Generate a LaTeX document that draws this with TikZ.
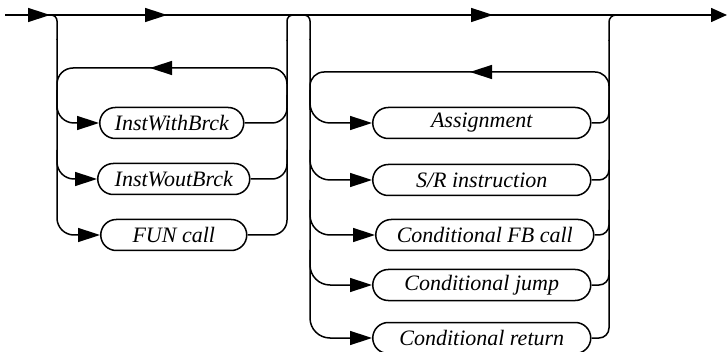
\documentclass[tikz,border=0pt]{standalone}
\usepackage{fontspec}
\setmainfont{Liberation Serif}
\usetikzlibrary{arrows.meta}
\tikzset{
  rail/.style={line width=1.5pt, line join=round},
  tipr/.style={-{Triangle[length=22pt,width=14pt]}},
  tips/.style={-{Triangle[length=16pt,width=14pt]}},
  itembox/.style={draw, line width=1.5pt, rounded corners=15.5pt, minimum height=31pt,
    inner sep=0pt, anchor=west, font=\fontsize{22}{26}\selectfont\itshape},
}
\begin{document}
\begin{tikzpicture}[x=1pt,y=-1pt]
\useasboundingbox (0,0) rectangle (727,352);
% named coordinates
\coordinate (start) at (5,15);
\coordinate (finish) at (727,15);
\coordinate (a1b) at (28,15);   \coordinate (a1t) at (50,15);
\coordinate (a2b) at (145,15);  \coordinate (a2t) at (167,15);
\coordinate (a3b) at (470,15);  \coordinate (a3t) at (493,15);
\coordinate (a4b) at (711,15);
\coordinate (l1b) at (170,68);  \coordinate (l1t) at (150,68);
\coordinate (l2b) at (490,72);  \coordinate (l2t) at (470,72);

% boxes, block 1
\node[itembox, minimum width=144pt] (b1) at (99,123) {InstWithBrck};
\node[itembox, minimum width=152pt] (b2) at (97,179) {InstWoutBrck};
\node[itembox, minimum width=146pt] (b3) at (100,235) {FUN call};
% boxes, block 2
\node[itembox, minimum width=218pt] (c1) at (372,123) {Assignment};
\node[itembox, minimum width=218pt] (c2) at (372,180) {S/R instruction};
\node[itembox, minimum width=218pt] (c3) at (375,235) {Conditional FB call};
\node[itembox, minimum width=218pt] (c4) at (372,285) {Conditional jump};
\node[itembox, minimum width=218pt] (c5) at (372,338) {Conditional return};

% main line
\draw[rail] (start) -- (a4b);
\draw[rail,tipr] (a1b) -- (a1t);
\draw[rail,tipr] (a2b) -- (a2t);
\draw[rail,tipr] (a3b) -- (a3t);
\draw[rail,tips] (a4b) -- (finish);

% block 1 left rail
\draw[rail, rounded corners=6pt] (40,15) -| (57,40);
\draw[rail, rounded corners=17pt, tipr] (57,39) |- (b3.west);
\draw[rail, rounded corners=17pt, tipr] (57,90) |- (b1.west);
\draw[rail, rounded corners=17pt, tipr] (57,150) |- (b2.west);
% block 1 right rail
\draw[rail, rounded corners=15pt] (b1.east) -| (287,95);
\draw[rail, rounded corners=15pt] (b2.east) -| (287,150);
\draw[rail, rounded corners=15pt] (b3.east) -| (287,40);
\draw[rail, rounded corners=6pt] (287,41) |- (300,15);
% block 1 loop
\draw[rail, rounded corners=16pt] (287,112) -- (287,68) -- (57,68) -- (57,110);
\draw[rail,tipr] (l1b) -- (l1t);

% block 2 left rail
\draw[rail, rounded corners=6pt] (295,15) -| (310,40);
\draw[rail, rounded corners=20pt, tipr] (310,39) |- (c5.west);
\draw[rail, rounded corners=20pt, tipr] (310,90) |- (c1.west);
\draw[rail, rounded corners=20pt, tipr] (310,150) |- (c2.west);
\draw[rail, rounded corners=20pt, tipr] (310,200) |- (c3.west);
\draw[rail, rounded corners=20pt, tipr] (310,250) |- (c4.west);
% block 2 right rail
\draw[rail, rounded corners=10pt] (c1.east) -| (609,100);
\draw[rail, rounded corners=10pt] (c2.east) -| (609,160);
\draw[rail, rounded corners=10pt] (c3.east) -| (609,210);
\draw[rail, rounded corners=10pt] (c4.east) -| (609,260);
\draw[rail, rounded corners=10pt] (c5.east) -| (609,40);
\draw[rail, rounded corners=7pt] (609,41) |- (630,15);
% block 2 loop
\draw[rail, rounded corners=14pt] (609,115) -- (609,72) -- (310,72) -- (310,110);
\draw[rail,tipr] (l2b) -- (l2t);
\end{tikzpicture}
\end{document}
